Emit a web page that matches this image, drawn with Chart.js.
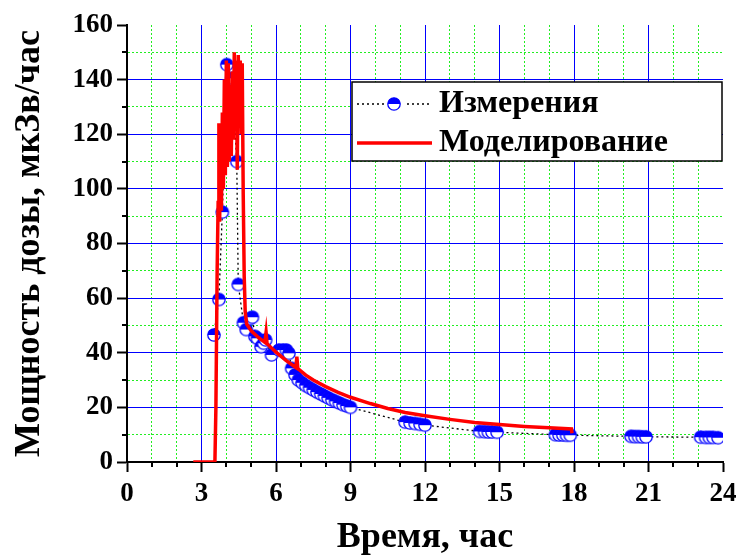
<!DOCTYPE html>
<html>
<head>
<meta charset="utf-8">
<script src="https://cdn.jsdelivr.net/npm/chart.js@4.4.1/dist/chart.umd.min.js"></script>
<style>
  html, body { margin: 0; padding: 0; background: #fff; }
</style>
</head>
<body>
<canvas id="doseChart" width="740" height="559"></canvas>
<script>
// измерения (время, ч / мощность дозы, мкЗв/ч)
const measTime = [
  3.5, 3.7, 3.84, 4.02, 4.22, 4.42, 4.48, 4.69, 4.8, 4.95, 5.05, 5.15, 5.25,
  5.4, 5.5, 5.58, 5.82, 6.12, 6.28, 6.42, 6.52, 6.63, 6.77, 6.9, 7.05, 7.2,
  7.35, 7.5, 7.65, 7.8, 7.95, 8.1, 8.25, 8.4, 8.55, 8.7, 8.85, 9.0,
  11.2, 11.4, 11.6, 11.8, 12.0,
  14.2, 14.4, 14.55, 14.7, 14.9,
  17.25, 17.4, 17.55, 17.7, 17.85,
  20.3, 20.45, 20.6, 20.75, 20.9,
  23.1, 23.3, 23.45, 23.6, 23.8,
];
const measDose = [
  46.5, 59.5, 91.5, 145.5, 140.5, 110, 65, 51, 48.5, 52.5, 53, 46, 45.3,
  42.2, 43.5, 44.7, 39.2, 41, 41, 41, 39.8, 34.3, 31.9, 30, 29, 28,
  27.2, 26.4, 25.6, 24.9, 24.2, 23.5, 22.8, 22.2, 21.6, 21.0, 20.5, 20.0,
  14.6, 14.3, 14.1, 13.8, 13.5,
  11.2, 11.1, 11.0, 11.0, 10.9,
  10.0, 9.9, 9.9, 9.8, 9.8,
  9.4, 9.3, 9.3, 9.2, 9.2,
  9.1, 9.0, 9.0, 9.0, 8.9,
];

// моделирование
const modelTime = [
  2.67, 3.54, 3.58, 3.63, 3.67, 3.7, 3.73, 3.77, 3.8, 3.84, 3.88, 3.92, 3.96,
  4.0, 4.04, 4.08, 4.12, 4.16, 4.2, 4.24, 4.28, 4.32, 4.36, 4.4, 4.44, 4.48,
  4.52, 4.56, 4.6, 4.64, 4.68, 4.72, 4.76, 4.82, 5.0, 5.3, 5.55, 5.6, 5.64,
  6.0, 6.4, 6.8, 6.84, 6.88, 7.2, 7.5, 8.0, 8.5, 9.0, 9.8, 10.5, 11.2, 12.0,
  13.0, 14.0, 15.0, 16.0, 17.0, 17.9, 17.92,
];
const modelDose = [
  0, 0, 20, 70, 95, 124, 88, 118, 92, 128, 100, 140, 105,
  147, 108, 146, 110, 138, 112, 143, 118, 150, 122, 147, 107, 149,
  128, 147, 120, 146, 98, 68, 55, 50.5, 48, 45.5, 43.8, 47.5, 43.3,
  40.2, 37.2, 34.6, 38.6, 34.2, 31.8, 30, 27.6, 25.5, 23.7, 21.4, 19.6, 18.1, 16.9,
  15.6, 14.5, 13.7, 13.0, 12.5, 12.1, 10.5,
];

const legendLabels = ["Измерения", "Моделирование"];
const xTitle = "Время, час";
const yTitle = "Мощность дозы, мкЗв/час";

const FONT = "'Liberation Serif', 'Times New Roman', serif";
const BLUE = "#0000ff";
const GREEN = "#22ee22";

// кружок: верхняя половина залита синим
function halfDot(r) {
  const s = Math.ceil(r * 2 + 3);
  const c = document.createElement("canvas");
  c.width = s;
  c.height = s;
  const g = c.getContext("2d");
  const m = s / 2;
  g.fillStyle = "#fff";
  g.beginPath();
  g.arc(m, m, r, 0, Math.PI * 2);
  g.fill();
  g.fillStyle = BLUE;
  g.beginPath();
  g.arc(m, m, r, Math.PI, 0);
  g.closePath();
  g.fill();
  g.strokeStyle = BLUE;
  g.lineWidth = 1.3;
  g.beginPath();
  g.arc(m, m, r, 0, Math.PI * 2);
  g.stroke();
  return c;
}
const dot = halfDot(6.2);

function gridColor(ctx, major, max) {
  if (!ctx.tick) return "transparent";
  const v = ctx.tick.value;
  if (v === max) return "transparent";
  return v % major === 0 ? BLUE : GREEN;
}

// короткие промежуточные риски
const minorTicks = {
  id: "minorTicks",
  afterDraw(chart) {
    const { ctx, chartArea, scales } = chart;
    ctx.save();
    ctx.strokeStyle = "#000";
    ctx.lineWidth = 2;
    scales.x.ticks.forEach((t) => {
      if (t.value % 3 === 0) return;
      const px = Math.round(scales.x.getPixelForValue(t.value));
      ctx.beginPath();
      ctx.moveTo(px, chartArea.bottom);
      ctx.lineTo(px, chartArea.bottom + 5);
      ctx.stroke();
    });
    scales.y.ticks.forEach((t) => {
      if (t.value % 20 === 0) return;
      const py = Math.round(scales.y.getPixelForValue(t.value));
      ctx.beginPath();
      ctx.moveTo(chartArea.left, py);
      ctx.lineTo(chartArea.left - 5, py);
      ctx.stroke();
    });
    ctx.restore();
  },
};

// легенда в рамке
const boxLegend = {
  id: "boxLegend",
  afterDraw(chart) {
    const ctx = chart.ctx;
    const x0 = 352, y0 = 82, x1 = 722, y1 = 161;
    ctx.save();
    ctx.fillStyle = "#fff";
    ctx.fillRect(x0, y0, x1 - x0, y1 - y0);
    ctx.strokeStyle = "#000";
    ctx.lineWidth = 1.5;
    ctx.strokeRect(x0, y0, x1 - x0, y1 - y0);

    ctx.font = "bold 32px " + FONT;
    ctx.fillStyle = "#000";
    ctx.textBaseline = "middle";
    ctx.fillText(legendLabels[0], 439, 104);
    ctx.fillText(legendLabels[1], 439, 143);

    ctx.strokeStyle = "#000";
    ctx.lineWidth = 1.3;
    ctx.setLineDash([2, 3]);
    ctx.beginPath();
    ctx.moveTo(357, 104);
    ctx.lineTo(430, 104);
    ctx.stroke();
    ctx.setLineDash([]);
    ctx.fillStyle = "#fff";
    ctx.fillRect(384, 94, 20, 20);
    ctx.drawImage(dot, 394 - dot.width / 2, 104 - dot.height / 2);

    ctx.strokeStyle = "#ff0000";
    ctx.lineWidth = 3.5;
    ctx.beginPath();
    ctx.moveTo(357, 143);
    ctx.lineTo(432, 143);
    ctx.stroke();
    ctx.restore();
  },
};

new Chart(document.getElementById("doseChart"), {
  type: "line",
  data: {
    datasets: [
      {
        label: legendLabels[0],
        data: measTime.map((t, i) => ({ x: t, y: measDose[i] })),
        borderColor: "#000",
        borderWidth: 1.3,
        borderDash: [2, 3],
        pointStyle: dot,
        pointRadius: 6,
        tension: 0,
        order: 2,
      },
      {
        label: legendLabels[1],
        data: modelTime.map((t, i) => ({ x: t, y: modelDose[i] })),
        borderColor: "#ff0000",
        borderWidth: 3.5,
        pointRadius: 0,
        tension: 0,
        order: 1,
      },
    ],
  },
  options: {
    responsive: false,
    animation: false,
    layout: { padding: { top: 25, right: 17, left: 0, bottom: 0 } },
    plugins: {
      legend: { display: false },
      tooltip: { enabled: false },
    },
    scales: {
      x: {
        type: "linear",
        min: 0,
        max: 24,
        afterFit(scale) {
          scale.height = 97;
          scale.paddingLeft = 0;
          scale.paddingRight = 0;
        },
        ticks: {
          stepSize: 1,
          autoSkip: false,
          maxRotation: 0,
          padding: 6,
          color: "#000",
          font: { family: FONT, size: 27, weight: "bold" },
          callback: (v) => (v % 3 === 0 ? v : ""),
        },
        grid: {
          color: (ctx) => gridColor(ctx, 3, 24),
          lineWidth: 1,
          tickColor: (ctx) => (ctx.tick && ctx.tick.value % 3 === 0 ? "#000" : "transparent"),
          tickLength: 10,
          tickWidth: 2,
        },
        border: {
          color: "#000",
          width: 2,
          dash: (ctx) => (ctx.tick && ctx.tick.value % 3 !== 0 ? [2, 2] : []),
        },
        title: {
          display: true,
          text: xTitle,
          color: "#000",
          font: { family: FONT, size: 36, weight: "bold" },
          padding: 0,
        },
      },
      y: {
        type: "linear",
        min: 0,
        max: 160,
        afterFit(scale) {
          scale.width = 127;
          scale.paddingTop = 0;
          scale.paddingBottom = 0;
        },
        ticks: {
          stepSize: 10,
          autoSkip: false,
          padding: 4,
          color: "#000",
          font: { family: FONT, size: 27, weight: "bold" },
          callback: (v) => (v % 20 === 0 ? v : ""),
        },
        grid: {
          color: (ctx) => gridColor(ctx, 20, 160),
          lineWidth: 1,
          tickColor: (ctx) => (ctx.tick && ctx.tick.value % 20 === 0 ? "#000" : "transparent"),
          tickLength: 10,
          tickWidth: 2,
        },
        border: {
          color: "#000",
          width: 2,
          dash: (ctx) => (ctx.tick && ctx.tick.value % 20 !== 0 ? [2, 2] : []),
        },
        title: {
          display: true,
          text: yTitle,
          color: "#000",
          font: { family: FONT, size: 36, weight: "bold" },
          padding: { top: 8, bottom: 0 },
        },
      },
    },
  },
  plugins: [minorTicks, boxLegend],
});
</script>
</body>
</html>
